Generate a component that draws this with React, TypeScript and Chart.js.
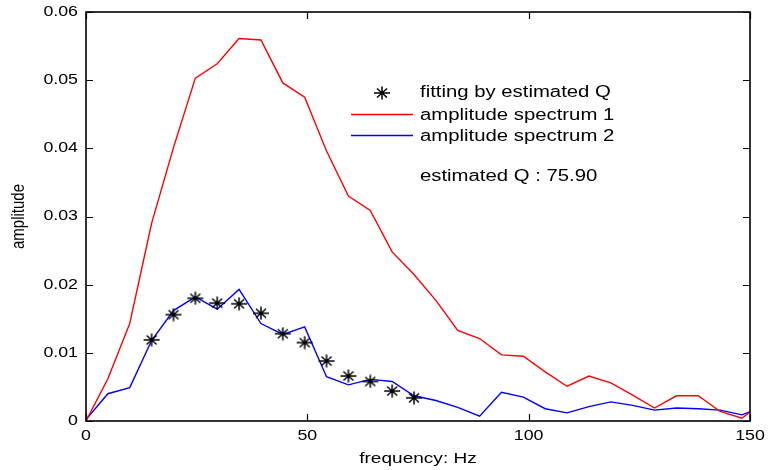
import React, { useEffect, useRef } from "react";
import { Chart, registerables } from "chart.js";

Chart.register(...registerables);

// frequency axis (Hz) of the spectra
const frequencies = [
  0, 4.94, 9.88, 14.82, 19.76, 24.7, 29.64, 34.58, 39.52, 44.46, 49.4, 54.34,
  59.28, 64.22, 69.16, 74.1, 79.04, 83.98, 88.92, 93.86, 98.8, 103.74, 108.68,
  113.62, 118.56, 123.5, 128.44, 133.38, 138.32, 143.26, 148.2, 153.14,
];

const spectrum1 = [
  0, 0.0062, 0.0143, 0.029, 0.0401, 0.0503, 0.0524, 0.0561, 0.0559, 0.0496,
  0.0475, 0.0396, 0.033, 0.0309, 0.0248, 0.0215, 0.0177, 0.0133, 0.0121,
  0.0097, 0.0095, 0.0072, 0.0051, 0.0066, 0.0056, 0.0038, 0.0019, 0.0037,
  0.0037, 0.0014, 0.0004, 0.003,
];

const spectrum2 = [
  0.0002, 0.004, 0.0049, 0.0118, 0.0162, 0.0182, 0.0164, 0.0193, 0.0143,
  0.0127, 0.0138, 0.0065, 0.0053, 0.0061, 0.0058, 0.0037, 0.003, 0.002,
  0.0007, 0.0042, 0.0035, 0.0018, 0.0012, 0.0021, 0.0028, 0.0023, 0.0016,
  0.0019, 0.0018, 0.0016, 0.0009, 0.0022,
];

const fitFrequencies = [
  14.82, 19.76, 24.7, 29.64, 34.58, 39.52, 44.46, 49.4, 54.34, 59.28, 64.22,
  69.16, 74.1,
];
const fitValues = [
  0.0119, 0.0156, 0.018, 0.0173, 0.0172, 0.0158, 0.0128, 0.0115, 0.0088,
  0.0066, 0.0058, 0.0044, 0.0034,
];

const xTicks = [0, 50, 100, 150];
const xTickLabels = ["0", "50", "100", "150"];
const yTicks = [0, 0.01, 0.02, 0.03, 0.04, 0.05, 0.06];
const yTickLabels = ["0", "0.01", "0.02", "0.03", "0.04", "0.05", "0.06"];

const legendLabels = [
  "fitting by estimated Q",
  "amplitude spectrum 1",
  "amplitude spectrum 2",
];
const annotationText = "estimated Q : 75.90";
const xTitle = "frequency: Hz";
const yTitle = "amplitude";

const FONT = '"Liberation Sans", Arial, Helvetica, sans-serif';
const STRETCH = 1.27;

function makeStar(): HTMLCanvasElement {
  const c = document.createElement("canvas");
  c.width = 18;
  c.height = 14;
  const g = c.getContext("2d")!;
  g.strokeStyle = "#000";
  g.lineWidth = 1.5;
  g.beginPath();
  g.moveTo(1, 7);
  g.lineTo(17, 7);
  g.moveTo(9, 0.5);
  g.lineTo(9, 13.5);
  g.moveTo(4, 2.5);
  g.lineTo(14, 11.5);
  g.moveTo(4, 11.5);
  g.lineTo(14, 2.5);
  g.stroke();
  return c;
}

function text(
  ctx: CanvasRenderingContext2D,
  s: string,
  x: number,
  y: number,
  size: number,
  align: CanvasTextAlign,
  rotate = false
) {
  ctx.save();
  ctx.translate(x, y);
  ctx.scale(STRETCH, 1);
  if (rotate) ctx.rotate(-Math.PI / 2);
  ctx.font = `${size}px ${FONT}`;
  ctx.fillStyle = "#000";
  ctx.textAlign = align;
  ctx.textBaseline = "middle";
  ctx.fillText(s, 0, 0);
  ctx.restore();
}

export default function App() {
  const ref = useRef<HTMLCanvasElement>(null);

  useEffect(() => {
    if (!ref.current) return;
    const star = makeStar();

    const decor = {
      id: "matlabDecor",
      afterDraw(chart: any) {
        const ctx: CanvasRenderingContext2D = chart.ctx;
        const { left, right, top, bottom } = chart.chartArea;
        const xs = chart.scales.x;
        const ys = chart.scales.y;
        ctx.save();
        ctx.strokeStyle = "#000";
        ctx.lineWidth = 1.6;
        ctx.strokeRect(left, top, right - left, bottom - top);
        ctx.lineWidth = 1.2;
        ctx.beginPath();
        const tl = 7;
        yTicks.forEach((v) => {
          const py = Math.round(ys.getPixelForValue(v)) + 0.5;
          ctx.moveTo(left, py);
          ctx.lineTo(left + tl, py);
          ctx.moveTo(right, py);
          ctx.lineTo(right - tl, py);
        });
        xTicks.forEach((v) => {
          const px = Math.round(xs.getPixelForValue(v)) + 0.5;
          ctx.moveTo(px, bottom);
          ctx.lineTo(px, bottom - tl);
          ctx.moveTo(px, top);
          ctx.lineTo(px, top + tl);
        });
        ctx.stroke();
        ctx.restore();

        yTicks.forEach((v, i) =>
          text(ctx, yTickLabels[i], left - 8, ys.getPixelForValue(v), 14, "right")
        );
        xTicks.forEach((v, i) =>
          text(ctx, xTickLabels[i], xs.getPixelForValue(v), bottom + 15, 14, "center")
        );
        text(ctx, xTitle, (left + right) / 2, 459, 15, "center");
        text(ctx, yTitle, 19, (top + bottom) / 2, 15, "center", true);

        // legend
        const tx = 420;
        ctx.drawImage(star, 382 - 9, 93 - 7);
        ctx.save();
        ctx.lineWidth = 1.4;
        ctx.strokeStyle = "#ff0000";
        ctx.beginPath();
        ctx.moveTo(351, 114.5);
        ctx.lineTo(413, 114.5);
        ctx.stroke();
        ctx.strokeStyle = "#0000ff";
        ctx.beginPath();
        ctx.moveTo(351, 135.5);
        ctx.lineTo(413, 135.5);
        ctx.stroke();
        ctx.restore();
        text(ctx, legendLabels[0], tx, 93, 16, "left");
        text(ctx, legendLabels[1], tx, 116, 16, "left");
        text(ctx, legendLabels[2], tx, 137, 16, "left");
        text(ctx, annotationText, tx, 177, 16, "left");
      },
    };

    const chart = new Chart(ref.current, {
      type: "line",
      data: {
        datasets: [
          {
            label: legendLabels[0],
            data: fitFrequencies.map((f, i) => ({ x: f, y: fitValues[i] })),
            showLine: false,
            pointStyle: star as any,
            pointRadius: 7,
            borderColor: "#000",
            backgroundColor: "#000",
          },
          {
            label: legendLabels[1],
            data: frequencies.map((f, i) => ({ x: f, y: spectrum1[i] })),
            borderColor: "#ff0000",
            borderWidth: 1.4,
            pointRadius: 0,
            tension: 0,
          },
          {
            label: legendLabels[2],
            data: frequencies.map((f, i) => ({ x: f, y: spectrum2[i] })),
            borderColor: "#0000ff",
            borderWidth: 1.4,
            pointRadius: 0,
            tension: 0,
          },
        ],
      },
      options: {
        animation: false,
        responsive: false,
        maintainAspectRatio: false,
        layout: { padding: { left: 86, right: 18, top: 12, bottom: 49 } },
        plugins: { legend: { display: false }, tooltip: { enabled: false } },
        scales: {
          x: { type: "linear", min: 0, max: 150, display: false },
          y: { type: "linear", min: 0, max: 0.06, display: false },
        },
      },
      plugins: [decor],
    });
    return () => chart.destroy();
  }, []);

  return (
    <div style={{ position: "absolute", left: 0, top: 0, width: 768, height: 470, background: "#fff" }}>
      <canvas ref={ref} width={768} height={470} style={{ display: "block", width: 768, height: 470 }} />
    </div>
  );
}
